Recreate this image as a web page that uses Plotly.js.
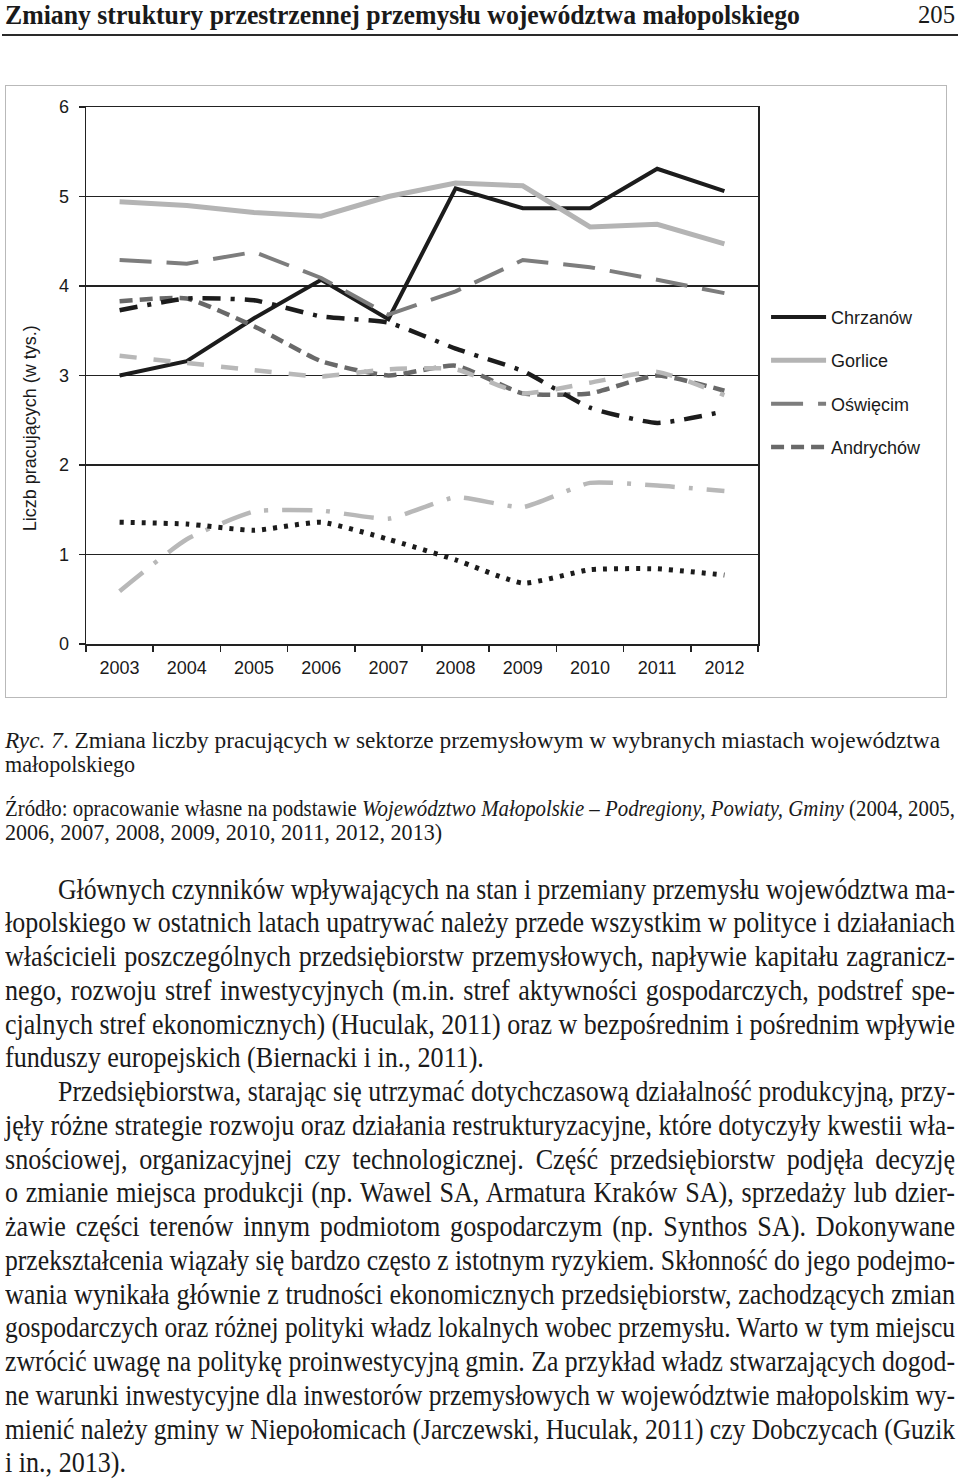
<!DOCTYPE html>
<html lang="pl">
<head>
<meta charset="utf-8">
<script src="https://cdn.plot.ly/plotly-3.0.1.min.js"></script>
<style>
  html, body { margin:0; padding:0; background:#fff; }
  #page { position:relative; width:960px; height:1482px; overflow:hidden; background:#fff; }
  #frame { position:absolute; left:5px; top:85px; width:940px; height:611px; border:1.5px solid #b9b9b9; }
  #chart { position:absolute; left:0; top:0; width:960px; height:720px; }
  #rule { position:absolute; left:2px; top:34px; width:956px; height:2px; background:#2a2a2a; }
  .ln { position:absolute; white-space:nowrap; color:#1a1a1a; transform-origin:0 50%; }
</style>
</head>
<body>
<div id="page">
  <div id="frame"></div>
  <div id="chart"></div>
  <div id="rule"></div>
</div>
<script>
// ---- chart data ----
const years = ['2003','2004','2005','2006','2007','2008','2009','2010','2011','2012'];
const chrzanow  = [3.00, 3.16, 3.64, 4.07, 3.63, 5.09, 4.87, 4.87, 5.31, 5.06];
const gorlice   = [4.94, 4.90, 4.82, 4.78, 5.00, 5.15, 5.12, 4.66, 4.69, 4.47];
const oswiecim  = [4.29, 4.25, 4.38, 4.09, 3.68, 3.94, 4.29, 4.21, 4.07, 3.92];
const andrychow = [3.83, 3.86, 3.55, 3.16, 3.00, 3.11, 2.80, 2.80, 3.00, 2.83];
const seria5    = [3.73, 3.86, 3.84, 3.66, 3.59, 3.30, 3.05, 2.64, 2.47, 2.60];
const seria6    = [3.22, 3.14, 3.06, 2.99, 3.07, 3.07, 2.80, 2.92, 3.04, 2.78];
const seria7    = [0.59, 1.17, 1.48, 1.49, 1.40, 1.64, 1.53, 1.80, 1.77, 1.71];
const seria8    = [1.36, 1.34, 1.27, 1.36, 1.17, 0.94, 0.68, 0.83, 0.84, 0.77];
const legendNames = ['Chrzanów', 'Gorlice', 'Oświęcim', 'Andrychów'];
const yTitle = 'Liczb pracujących (w tys.)';

const traces = [
  {name: legendNames[0], y: chrzanow,  line:{color:'#1c1c1c', width:4}},
  {name: legendNames[1], y: gorlice,   line:{color:'#b4b4b4', width:5}},
  {name: legendNames[2], y: oswiecim,  line:{color:'#7d7d7d', width:4, dash:'32px,15px'}},
  {name: legendNames[3], y: andrychow, line:{color:'#696969', width:4.5, dash:'13px,7px', shape:'spline', smoothing:0.5}},
  {name: 'seria 5', y: seria5, showlegend:false, line:{color:'#1c1c1c', width:4.5, dash:'18px,10px,4px,10px', shape:'spline', smoothing:0.5}},
  {name: 'seria 6', y: seria6, showlegend:false, line:{color:'#b8b8b8', width:4.5, dash:'17px,17px', shape:'spline', smoothing:0.5}},
  {name: 'seria 7', y: seria7, showlegend:false, line:{color:'#b8b8b8', width:4.5, dash:'30px,14px,4px,14px', shape:'spline', smoothing:0.5}},
  {name: 'seria 8', y: seria8, showlegend:false, line:{color:'#1c1c1c', width:5, dash:'4px,7px', shape:'spline', smoothing:0.5}}
].map((t, i) => Object.assign({type:'scatter', mode:'lines', x: years, hoverinfo:'skip', legendgroup:'g'+i}, t));

const layout = {
  width: 960, height: 720,
  margin: {l:86, r:202, t:107, b:76, pad:0},
  paper_bgcolor: 'rgba(0,0,0,0)', plot_bgcolor: '#ffffff',
  font: {family: '"Liberation Sans", Arial, sans-serif', size: 18, color: '#1a1a1a'},
  showlegend: true,
  legend: {x: 1.012, xanchor: 'left', y: 0.643, yanchor: 'top', traceorder: 'grouped', tracegroupgap: 17,
           itemwidth: 55, bgcolor: 'rgba(0,0,0,0)', font: {size: 18}},
  xaxis: {type:'category', range:[-0.5, 9.5], tickson:'boundaries', ticks:'outside', ticklen:6, tickwidth:1.5,
          tickcolor:'#222', showline:true, linecolor:'#222', linewidth:1.5, mirror:true, showgrid:false,
          zeroline:false, ticklabelstandoff:7, fixedrange:true},
  yaxis: {range:[0, 6], tick0:0, dtick:1, ticks:'outside', ticklen:6, tickwidth:1.5, tickcolor:'#222',
          showline:true, linecolor:'#222', linewidth:1.5, mirror:true, showgrid:true, gridcolor:'#222',
          gridwidth:1.4, zeroline:false, ticklabelstandoff:6, fixedrange:true},
  annotations: [{text: yTitle, textangle:-90, xref:'paper', yref:'paper', x:-0.083, y:0.402,
                 xanchor:'center', yanchor:'middle', showarrow:false, font:{size:18}}]
};
Plotly.newPlot('chart', traces, layout, {displayModeBar:false, staticPlot:true});

// ---- page text ----
const page = document.getElementById('page');
const SERIF = '"Liberation Serif", "Times New Roman", serif';
function addLine(s) {
  const k = s.k || 1;
  const d = document.createElement('div');
  d.className = 'ln';
  d.style.fontFamily = SERIF;
  d.style.fontSize = s.size + 'px';
  d.style.fontWeight = s.bold ? 'bold' : 'normal';
  d.style.lineHeight = s.size + 'px';
  d.style.left = s.left + 'px';
  d.style.top = (s.y - s.size * 0.5) + 'px';
  d.innerHTML = s.html;
  d.style.display = 'inline-block';
  page.appendChild(d);
  const nat = d.getBoundingClientRect().width;
  let scale = k;
  if (s.right !== undefined) {
    const W = s.right - s.left;
    if (s.fit || nat * k > W) {
      scale = W / nat;
    } else if (s.justify) {
      const spaces = (d.textContent.match(/ /g) || []).length;
      if (spaces > 0) d.style.wordSpacing = ((W / k - nat) / spaces) + 'px';
    }
  }
  d.style.transform = 'scaleX(' + scale + ')';
}
// header
addLine({html:'Zmiany struktury przestrzennej przemysłu województwa małopolskiego', size:27, bold:true, k:1, left:5, right:800, y:15, justify:true});
addLine({html:'205', size:26, k:0.95, left:918, y:15});

// caption
const CS = 23, CK = 0.96;
addLine({html:'<i>Ryc. 7</i>. Zmiana liczby pracujących w sektorze przemysłowym w wybranych miastach województwa', size:CS, k:CK, left:5, right:940, y:740, fit:true});
addLine({html:'małopolskiego', size:CS, k:CK, left:5, y:764});
addLine({html:'Źródło: opracowanie własne na podstawie <i>Województwo Małopolskie – Podregiony, Powiaty, Gminy</i> (2004, 2005,', size:CS, k:CK, left:5, right:955, y:808, justify:true});
addLine({html:'2006, 2007, 2008, 2009, 2010, 2011, 2012, 2013)', size:CS, k:CK, left:5, y:832});

// body
const bodyLines = [
  ['Głównych czynników wpływających na stan i przemiany przemysłu województwa ma-', 1, 1],
  ['łopolskiego w ostatnich latach upatrywać należy przede wszystkim w polityce i działaniach', 0, 1],
  ['właścicieli poszczególnych przedsiębiorstw przemysłowych, napływie kapitału zagranicz-', 0, 1],
  ['nego, rozwoju stref inwestycyjnych (m.in. stref aktywności gospodarczych, podstref spe-', 0, 1],
  ['cjalnych stref ekonomicznych) (Huculak, 2011) oraz w bezpośrednim i pośrednim wpływie', 0, 1],
  ['funduszy europejskich (Biernacki i in., 2011).', 0, 0],
  ['Przedsiębiorstwa, starając się utrzymać dotychczasową działalność produkcyjną, przy-', 1, 1],
  ['jęły różne strategie rozwoju oraz działania restrukturyzacyjne, które dotyczyły kwestii wła-', 0, 1],
  ['snościowej, organizacyjnej czy technologicznej. Część przedsiębiorstw podjęła decyzję', 0, 1],
  ['o zmianie miejsca produkcji (np. Wawel SA, Armatura Kraków SA), sprzedaży lub dzier-', 0, 1],
  ['żawie części terenów innym podmiotom gospodarczym (np. Synthos SA). Dokonywane', 0, 1],
  ['przekształcenia wiązały się bardzo często z istotnym ryzykiem. Skłonność do jego podejmo-', 0, 1],
  ['wania wynikała głównie z trudności ekonomicznych przedsiębiorstw, zachodzących zmian', 0, 1],
  ['gospodarczych oraz różnej polityki władz lokalnych wobec przemysłu. Warto w tym miejscu', 0, 1],
  ['zwrócić uwagę na politykę proinwestycyjną gmin. Za przykład władz stwarzających dogod-', 0, 1],
  ['ne warunki inwestycyjne dla inwestorów przemysłowych w województwie małopolskim wy-', 0, 1],
  ['mienić należy gminy w Niepołomicach (Jarczewski, Huculak, 2011) czy Dobczycach (Guzik', 0, 1],
  ['i in., 2013).', 0, 0]
];
const BS = 29, BK = 0.9;
bodyLines.forEach((l, i) => {
  const left = l[1] ? 58 : 5;
  const spec = {html: l[0], size: BS, k: BK, left: left, y: 889 + i * 33.76};
  if (l[2]) { spec.right = 955; spec.justify = true; }
  addLine(spec);
});
</script>
</body>
</html>
